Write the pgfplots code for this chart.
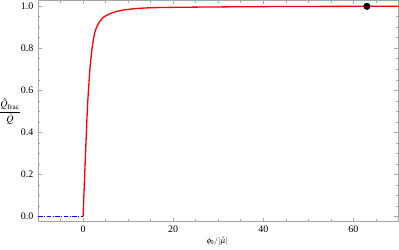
\documentclass[border=0pt]{standalone}
\usepackage{mathptmx}
\usepackage{fontspec}
\setmainfont{Liberation Serif}
\usepackage{pgfplots}
\pgfplotsset{compat=1.18}
\begin{document}
\fontsize{10}{12}\selectfont
\begin{tikzpicture}
\begin{axis}[name=ax,
  scale only axis, width=360pt, height=221pt,
  xmin=-10, xmax=70, ymin=-0.024, ymax=1.027,
  axis line style={gray!70, line width=0.6pt},
  tick style={gray!70, line width=0.5pt},
  tick align=inside,
  major tick length=4pt, minor tick length=2.2pt,
  xtick={0,20,40,60}, minor xtick={-5,5,10,15,25,30,35,45,50,55,65},
  ytick={0,0.2,0.4,0.6,0.8,1.0},
  minor ytick={0.05,0.1,0.15,0.25,0.3,0.35,0.45,0.5,0.55,0.65,0.7,0.75,0.85,0.9,0.95},
  yticklabel style={/pgf/number format/fixed, /pgf/number format/fixed zerofill, /pgf/number format/precision=1},
  /pgf/number format/assume math mode=true,
  ticklabel style={font=\fontsize{10}{12}\selectfont},
  xticklabel style={yshift=-1pt},
  yticklabel style={xshift=-1pt},
  clip=false,
]
\addplot[red, line width=1.3pt, smooth, tension=0.4] coordinates {
(0,0) (0.45,0.25) (0.95,0.51) (1.2,0.6) (1.55,0.71) (2,0.8) (2.5,0.865) (3,0.9)
(3.8,0.93) (4.6,0.948) (5.6,0.96) (7,0.972) (8.6,0.98) (11.5,0.988) (15,0.992)
(20,0.994) (30,0.996) (45,0.998) (63,0.999) (70,0.999)
};
\addplot[blue, line width=1.1pt, dash pattern=on 4.5pt off 1.5pt on 1pt off 1.5pt] coordinates {(-10,0) (0,0)};
\addplot[only marks, mark=*, mark size=3.3pt, black] coordinates {(63,0.999)};
\node[anchor=east, inner sep=1pt] at (axis cs:-10,0.5) [xshift=-16pt] {$\displaystyle\frac{\hat{Q}_{\mathrm{frac}}}{\hat{Q}}$};
\node[font=\fontsize{8}{10}\selectfont] at (axis cs:29.8,-0.024) [yshift=-19.5pt] {$\phi_0/|\hat{\mu}|$};
\end{axis}
\pgfresetboundingbox
\path ([xshift=-38pt,yshift=-27.5pt]ax.south west) rectangle ([xshift=0.6pt,yshift=0.4pt]ax.north east);
\end{tikzpicture}
\end{document}
